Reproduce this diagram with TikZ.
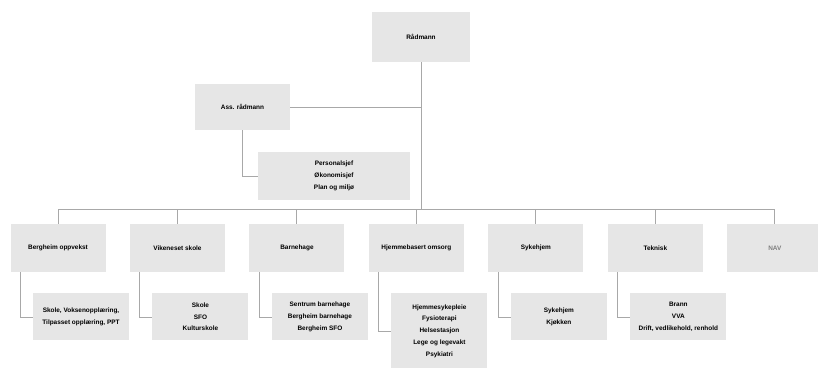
\documentclass[tikz,border=0pt]{standalone}
\usepackage{fontspec}
\setmainfont{Liberation Sans}
\usepackage{xcolor}
\usetikzlibrary{positioning,calc}

\definecolor{boxgray}{HTML}{E6E6E6}
\definecolor{linegray}{HTML}{A8A8A8}

\begin{document}
\begin{tikzpicture}[
            node distance=0.72cm,
            unit/.style={rectangle, fill=boxgray, minimum width=2.85cm, minimum height=1.44cm, align=center, inner sep=2pt, font=\fontsize{5.5}{10}\selectfont\bfseries},
            sub/.style={unit, minimum width=2.88cm, minimum height=1.41cm},
            link/.style={draw=linegray, line width=0.8pt}
        ]
            \useasboundingbox (0,0) rectangle (24.54,-11.07);

            % Top
            \node[unit, minimum width=2.94cm, minimum height=1.5cm] (radmann) at (12.63,-1.11) {Rådmann};
            \node[unit, minimum height=1.38cm] (ass) at (7.275,-3.21) {Ass. rådmann};
            \node[unit, minimum width=4.56cm] (stab) at (10.02,-5.28) {Personalsjef\\Økonomisjef\\Plan og miljø};

            % Units
            \node[unit] (h1) at (1.74,-7.44) {Bergheim oppvekst};
            \node[unit, right=of h1] (h2) {Vikeneset skole};
            \node[unit, right=of h2] (h3) {Barnehage};
            \node[unit, right=of h3] (h4) {Hjemmebasert omsorg};
            \node[unit, right=of h4] (h5) {Sykehjem};
            \node[unit, right=of h5] (h6) {Teknisk};
            \node[unit, right=of h6, text=gray] (h7) {NAV};

            % Sub units
            \node[sub, below=0.63cm of h1, xshift=0.69cm] (s1) {Skole, Voksenopplæring,\\Tilpasset opplæring, PPT};
            \node[sub, below=0.63cm of h2, xshift=0.69cm] (s2) {Skole\\SFO\\Kulturskole};
            \node[sub, below=0.63cm of h3, xshift=0.69cm] (s3) {Sentrum barnehage\\Bergheim barnehage\\Bergheim SFO};
            \node[sub, below=0.63cm of h4, xshift=0.69cm, minimum height=2.25cm] (s4) {Hjemmesykepleie\\Fysioterapi\\Helsestasjon\\Lege og legevakt\\Psykiatri};
            \node[sub, below=0.63cm of h5, xshift=0.69cm] (s5) {Sykehjem\\Kjøkken};
            \node[sub, below=0.63cm of h6, xshift=0.69cm] (s6) {Brann\\VVA\\Drift, vedlikehold, renhold};

            % Lines
            \coordinate (bus) at ([yshift=0.42cm]h1.north);
            \draw[link] (radmann.south) -- (radmann.south |- bus);
            \draw[link] (ass.east) -- (ass.east -| radmann.south);
            \draw[link] (ass.south) |- (stab.west);
            \draw[link] (bus) -- (bus -| h7.north);
            \foreach \n in {1,...,7}
                \draw[link] (h\n.north) -- (h\n.north |- bus);
            \foreach \n in {1,...,6}
                \draw[link] ([xshift=0.3cm]h\n.south west) |- (s\n.west);
        \end{tikzpicture}
\end{document}
